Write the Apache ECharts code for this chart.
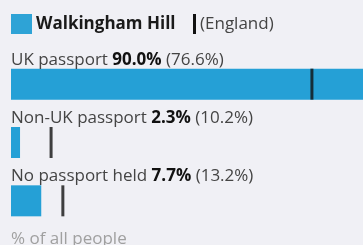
<!DOCTYPE html>
<html>
<head>
<meta charset="utf-8">
<script src="https://cdn.jsdelivr.net/npm/echarts@6/dist/echarts.min.js"></script>
<style>
html, body { margin: 0; padding: 0; background: #f0f0f5; }
#chart { width: 363px; height: 245px; }
</style>
</head>
<body>
<div id="chart"></div>
<script>
// 护照持有情况 - 地区对比英格兰
const areaName = 'Walkingham Hill'
const compareName = '(England)'
const categories = ['UK passport', 'Non-UK passport', 'No passport held']
const areaValues = [90.0, 2.3, 7.7]       // 本地区 %
const englandValues = [76.6, 10.2, 13.2]  // 英格兰 %
const axisLabel = '% of all people'

const barColor = '#25a0d6'
const font = '"Open Sans", "DejaVu Sans", sans-serif'

const chart = echarts.init(document.getElementById('chart'), null, { renderer: 'canvas' })

const option = {
    backgroundColor: '#f0f0f5',
    animation: false,
    textStyle: { fontFamily: font },
    grid: { top: 55, left: 11, right: 0, height: 175 },
    xAxis: {
        type: 'value', min: 0, max: 89.6, show: false
    },
    yAxis: {
        type: 'category', data: categories, inverse: true, show: false
    },
    graphic: [
        { type: 'rect', left: 11, top: 14, shape: { width: 21, height: 20 }, style: { fill: '#2ea3d6' } },
        { type: 'text', x: 36, y: 24, style: { text: areaName, font: 'bold 17px ' + font, fill: '#1a1a1a', verticalAlign: 'middle' } },
        { type: 'rect', left: 193, top: 14, shape: { width: 3, height: 20 }, style: { fill: '#111' } },
        { type: 'text', x: 200, y: 24, style: { text: compareName, font: '17px ' + font, fill: '#444', verticalAlign: 'middle' } },
        { type: 'text', x: 11, y: 239, style: { text: axisLabel, font: '17px ' + font, fill: '#a0a0a0', verticalAlign: 'middle' } }
    ],
    series: [
        {
            name: areaName,
            type: 'bar',
            barWidth: 31,
            data: areaValues,
            itemStyle: { color: barColor },
            label: {
                show: true,
                position: [0, -9],
                align: 'left',
                verticalAlign: 'middle',
                fontSize: 17,
                color: '#444',
                formatter: function (p) {
                    return categories[p.dataIndex] + ' {b|' + areaValues[p.dataIndex].toFixed(1) + '%}' +
                        ' (' + englandValues[p.dataIndex].toFixed(1) + '%)'
                },
                rich: {
                    b: { fontWeight: 'bold', fontSize: 17, color: '#111' }
                }
            }
        },
        {
            name: compareName,
            type: 'scatter',
            symbol: 'rect',
            symbolSize: [3, 31],
            data: englandValues,
            itemStyle: { color: '#111' },
            z: 5
        }
    ]
}
chart.setOption(option)
</script>
</body>
</html>
